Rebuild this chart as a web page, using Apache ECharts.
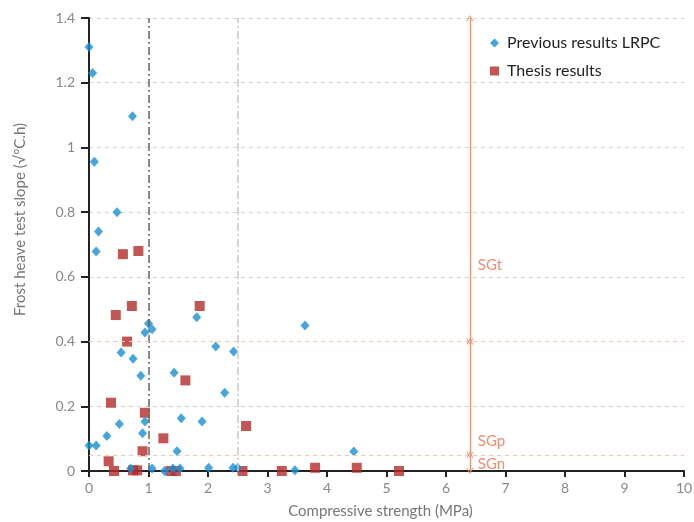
<!DOCTYPE html>
<html>
<head>
    <meta charset="utf-8">
    <title>Frost heave</title>
    <script src="https://cdn.jsdelivr.net/npm/echarts@6/dist/echarts.min.js"></script>
    <style>
        html, body { margin: 0; padding: 0; background: #fff; }
        #main { width: 694px; height: 522px; }
    </style>
</head>
<body>
    <div id="main"></div>
    <script>
        // Previous results LRPC (blue diamonds)
        var lrpcX = [0, 0.06, 0.73, 0.09, 0.47, 0.16, 0.12, 0, 0.12, 0.30, 0.51, 0.54, 0.74, 0.87, 0.90, 0.94, 0.94, 1.0, 1.06,
            0.70, 1.06, 1.27, 1.41, 1.53, 1.43, 1.48, 1.55, 1.81, 1.90, 2.01, 2.13, 2.28, 2.43, 2.42, 2.50, 3.63, 3.46, 4.45];
        var lrpcY = [1.31, 1.23, 1.096, 0.956, 0.80, 0.74, 0.678, 0.079, 0.079, 0.108, 0.145, 0.366, 0.347, 0.294, 0.117, 0.153, 0.428, 0.456, 0.438,
            0.008, 0.008, 0.0, 0.008, 0.008, 0.304, 0.061, 0.163, 0.475, 0.153, 0.01, 0.385, 0.242, 0.369, 0.01, 0.01, 0.45, 0.002, 0.06];
        // Thesis results (red squares)
        var thesisX = [0.57, 0.83, 0.72, 0.45, 0.64, 1.86, 1.62, 0.37, 0.94, 1.25, 0.90, 0.33, 0.42, 0.74, 0.81, 1.37, 1.46,
            2.64, 2.58, 3.24, 3.80, 4.50, 5.21];
        var thesisY = [0.67, 0.68, 0.51, 0.482, 0.40, 0.51, 0.28, 0.211, 0.18, 0.101, 0.061, 0.03, 0.0, 0.002, 0.002, 0.0, 0.0,
            0.139, 0.0, 0.0, 0.01, 0.01, 0.0];
        var legendNames = ['Previous results LRPC', 'Thesis results'];
        var limitX = 6.4;          // position of the SG arrow
        var limits = [0.05, 0.4];  // SGn / SGp / SGt boundaries
        var limitLabels = [['SGt', 0.636], ['SGp', 0.093], ['SGn', 0.02]];

        function pairs(xs, ys) {
            var out = [];
            for (var i = 0; i < xs.length; i++) out.push([xs[i], ys[i]]);
            return out;
        }

        var salmon = '#f48a70';
        var chevron = 'path://M0,10 L5,0 L10,10 L8.6,10 L5,2.8 L1.4,10 Z';
        var myChart = echarts.init(document.getElementById('main'));

        var option = {
            animation: false,
            textStyle: { fontFamily: 'Lato' },
            grid: { left: 89, right: 10, top: 18, bottom: 51, outerBoundsMode: 'none' },
            legend: {
                orient: 'vertical',
                left: 485,
                top: 30,
                itemGap: 12,
                itemWidth: 9,
                itemHeight: 9,
                textStyle: { fontFamily: 'Lato', fontSize: 16, color: '#222', padding: [0, 0, 0, 3] },
                data: legendNames
            },
            xAxis: {
                type: 'value',
                min: 0, max: 10, interval: 1,
                name: 'Compressive strength (MPa)',
                nameLocation: 'middle',
                nameGap: 33,
                nameTextStyle: { fontSize: 15, color: '#777', padding: [0, 12, 0, 0] },
                axisLine: { onZero: false, lineStyle: { color: '#222', width: 2 } },
                axisTick: { show: true, length: 6, lineStyle: { color: '#222', width: 2 } },
                axisLabel: { fontSize: 14, color: '#888', margin: 10 },
                splitLine: { show: false }
            },
            yAxis: {
                type: 'value',
                min: 0, max: 1.4, interval: 0.2,
                name: 'Frost heave test slope (√°C.h)',
                nameLocation: 'middle',
                nameGap: 61,
                nameTextStyle: { fontSize: 15, color: '#777', padding: [0, 0, 0, 50] },
                axisLine: { show: true, lineStyle: { color: '#222', width: 2 } },
                axisTick: { show: true, length: 8, lineStyle: { color: '#222', width: 2 } },
                axisLabel: {
                    fontSize: 14, color: '#888', margin: 14,
                    formatter: function (v) { return String(Math.round(v * 10) / 10); }
                },
                splitLine: { show: true, lineStyle: { color: '#d4d4d4', type: [4, 4], width: 1 } }
            },
            series: [
                {
                    name: legendNames[0],
                    type: 'scatter',
                    symbol: 'diamond',
                    symbolSize: [9, 10],
                    itemStyle: { color: '#1690d6' },
                    data: pairs(lrpcX, lrpcY),
                    z: 4
                },
                {
                    name: legendNames[1],
                    type: 'scatter',
                    symbol: 'rect',
                    symbolSize: 10,
                    itemStyle: { color: '#b42a29' },
                    data: pairs(thesisX, thesisY),
                    z: 3,
                    markLine: {
                        silent: true,
                        symbol: 'none',
                        label: { show: false },
                        data: [
                            { xAxis: 1, lineStyle: { color: '#666', type: [8, 3, 2, 3], width: 1.5 } },
                            { xAxis: 2.5, lineStyle: { color: '#c8c8c8', type: [8, 3, 2, 3], width: 1.5 } },
                            { yAxis: limits[0], lineStyle: { color: '#fbc3b4', type: [4, 4], width: 1.2 } },
                            { yAxis: limits[1], lineStyle: { color: '#fbc3b4', type: [4, 4], width: 1.2 } }
                        ]
                    }
                },
                {
                    name: 'sg',
                    type: 'scatter',
                    data: [],
                    markLine: {
                        silent: true,
                        symbol: [chevron, chevron],
                        symbolSize: [7, 6],
                        label: { show: false },
                        lineStyle: { color: salmon, type: 'solid', width: 1.2 },
                        data: [
                            [{ coord: [limitX, 0] }, { coord: [limitX, limits[0]] }],
                            [{ coord: [limitX, limits[0]] }, { coord: [limitX, limits[1]] }],
                            [{ coord: [limitX, limits[1]] }, { coord: [limitX, 1.4] }]
                        ]
                    },
                    markPoint: {
                        silent: true,
                        symbol: 'circle',
                        symbolSize: 0,
                        label: {
                            show: true,
                            position: 'right',
                            distance: 8,
                            color: salmon,
                            fontFamily: 'Lato',
                            fontSize: 15,
                            formatter: function (p) { return p.name; }
                        },
                        data: limitLabels.map(function (l) {
                            return { name: l[0], coord: [limitX, l[1]] };
                        })
                    }
                }
            ]
        };
        myChart.setOption(option);
    </script>
</body>
</html>
